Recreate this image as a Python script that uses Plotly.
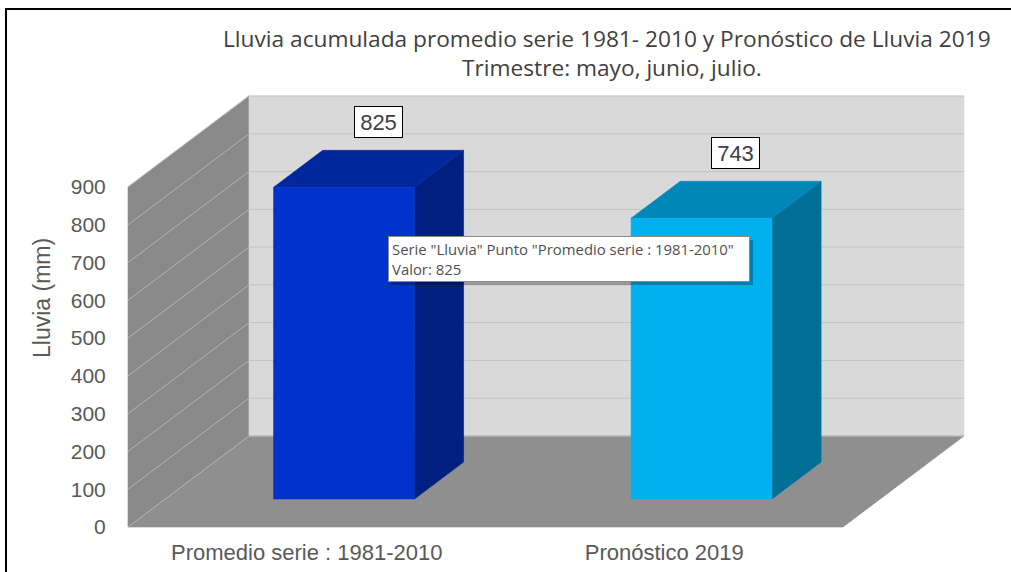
import plotly.graph_objects as go

# ---------------- data ----------------
categories = ["Promedio serie : 1981-2010", "Pronóstico 2019"]
values = [825, 743]
y_ticks = [0, 100, 200, 300, 400, 500, 600, 700, 800, 900]
series_name = "Lluvia"
y_title = "Lluvia (mm)"
title_line1 = "Lluvia acumulada promedio serie 1981- 2010 y Pronóstico de Lluvia 2019"
title_line2 = "Trimestre: mayo, junio, julio."

front_colors = ["#0032cc", "#00b0f0"]
side_colors = ["#001f80", "#006f96"]
top_colors = ["#00279c", "#0087b8"]

# ---------------- geometry / style ----------------
W, H = 1011, 572
PX_X = 357.5          # pixels per category unit
X0_PX = 306.75        # pixel of category 0 (front plane)
PX_Y = 340.0 / 900.0  # pixels per value unit
Y0_PX = 527.0         # pixel of value 0 (front plane)

DX = 121.0 / PX_X     # full depth offset in x units
DY = 91.0 / PX_Y      # full depth offset in value units
YMAX = max(y_ticks)
XL, XR = -0.5, len(categories) - 0.5
BAR_W = 0.394
F0, F1 = 0.308, 0.714  # bar depth start/end fractions


def proj(x, v, f):
    return x + f * DX, v + f * DY


def poly(pts, color):
    xs, ys = [], []
    for p in pts:
        a, b = proj(*p)
        xs.append(a)
        ys.append(b)
    xs.append(xs[0])
    ys.append(ys[0])
    return go.Scatter(x=xs, y=ys, mode="lines", fill="toself", fillcolor=color,
                      line=dict(width=0.6, color=color), hoverinfo="skip", showlegend=False)


fig = go.Figure()

# walls and floor
fig.add_trace(poly([(XL, 0, 0), (XL, 0, 1), (XL, YMAX, 1), (XL, YMAX, 0)], "#898989"))
fig.add_trace(poly([(XL, 0, 1), (XR, 0, 1), (XR, YMAX, 1), (XL, YMAX, 1)], "#d9d9d9"))
fig.add_trace(poly([(XL, 0, 0), (XR, 0, 0), (XR, 0, 1), (XL, 0, 1)], "#8f8f8f"))

# gridlines
lx, ly, bx, by = [], [], [], []
for t in y_ticks:
    a0, b0 = proj(XL, t, 0)
    a1, b1 = proj(XL, t, 1)
    a2, b2 = proj(XR, t, 1)
    lx += [a0, a1, None]
    ly += [b0, b1, None]
    bx += [a1, a2, None]
    by += [b1, b2, None]
fig.add_trace(go.Scatter(x=lx, y=ly, mode="lines", line=dict(color="#b4b4b4", width=1),
                         hoverinfo="skip", showlegend=False))
fig.add_trace(go.Scatter(x=bx, y=by, mode="lines", line=dict(color="#c3c3c3", width=1),
                         hoverinfo="skip", showlegend=False))

# bars
for i, v in enumerate(values):
    xa, xb = i - BAR_W / 2, i + BAR_W / 2
    fig.add_trace(poly([(xb, 0, F0), (xb, 0, F1), (xb, v, F1), (xb, v, F0)], side_colors[i]))
    fig.add_trace(poly([(xa, v, F0), (xb, v, F0), (xb, v, F1), (xa, v, F1)], top_colors[i]))
    fig.add_trace(poly([(xa, 0, F0), (xb, 0, F0), (xb, v, F0), (xa, v, F0)], front_colors[i]))

annotations = []
# data labels
for i, v in enumerate(values):
    annotations.append(dict(
        x=i + 0.2, y=v + 248, xref="x", yref="y", text=str(v), showarrow=False,
        xanchor="center", yanchor="middle",
        font=dict(family="Liberation Sans, Arial", size=22, color="#404040"),
        bgcolor="#ffffff", bordercolor="#000000", borderwidth=1, borderpad=3,
        width=41, height=24))

# title
annotations.append(dict(x=607 / W, y=1 - 38 / H, xref="paper", yref="paper", text=title_line1,
                        xanchor="center", yanchor="middle", showarrow=False,
                        font=dict(family="Open Sans", size=22.7, color="#404040")))
annotations.append(dict(x=612 / W, y=1 - 68 / H, xref="paper", yref="paper", text=title_line2,
                        xanchor="center", yanchor="middle", showarrow=False,
                        font=dict(family="Open Sans", size=22.7, color="#404040")))
# y axis title
annotations.append(dict(x=42 / W, y=1 - 298 / H, xref="paper", yref="paper", text=y_title,
                        xanchor="center", yanchor="middle", textangle=-90, showarrow=False,
                        font=dict(family="Liberation Sans, Arial", size=23, color="#595959")))
# tooltip
tip = 'Serie "%s" Punto "%s"<br>Valor: %d' % (series_name, categories[0], values[0])
annotations.append(dict(x=388 / W, y=1 - 236 / H, xref="paper", yref="paper",
                        xanchor="left", yanchor="top", text=tip, align="left", showarrow=False,
                        font=dict(family="Open Sans", size=14.9, color="#505050"),
                        bgcolor="#ffffff", bordercolor="#8a8a8a", borderwidth=1, borderpad=3,
                        width=354, height=38))

shapes = [
    # tooltip shadow
    dict(type="rect", xref="paper", yref="paper", x0=391 / W, x1=753 / W,
         y0=1 - 285 / H, y1=1 - 240 / H, fillcolor="rgba(0,0,0,0.28)", line=dict(width=0),
         layer="above"),
    # chart frame
    dict(type="rect", xref="paper", yref="paper", x0=6 / W, x1=1.02, y0=-0.05, y1=1 - 9 / H,
         line=dict(color="#000000", width=2), fillcolor="rgba(0,0,0,0)", layer="above"),
]

fig.update_layout(
    width=W, height=H, margin=dict(l=0, r=0, t=0, b=0),
    paper_bgcolor="#ffffff", plot_bgcolor="#ffffff",
    showlegend=False, hovermode=False,
    annotations=annotations, shapes=shapes,
    xaxis=dict(range=[(0 - X0_PX) / PX_X, (W - X0_PX) / PX_X], tickvals=list(range(len(categories))),
               ticktext=categories, showgrid=False, zeroline=False, showline=False,
               ticks="outside", ticklen=6, tickcolor="rgba(0,0,0,0)",
               tickfont=dict(family="Liberation Sans, Arial", size=22, color="#595959"),
               anchor="free", position=1 - Y0_PX / H, fixedrange=True),
    yaxis=dict(range=[(Y0_PX - H) / PX_Y, Y0_PX / PX_Y], tickvals=y_ticks,
               showgrid=False, zeroline=False, showline=False,
               ticks="outside", ticklen=17, tickcolor="rgba(0,0,0,0)",
               tickfont=dict(family="Liberation Sans, Arial", size=21, color="#595959"),
               anchor="free", position=127 / W, fixedrange=True),
)

fig.write_html("out.html", config={"displayModeBar": False},
               post_script="document.body.style.margin='0px';")
